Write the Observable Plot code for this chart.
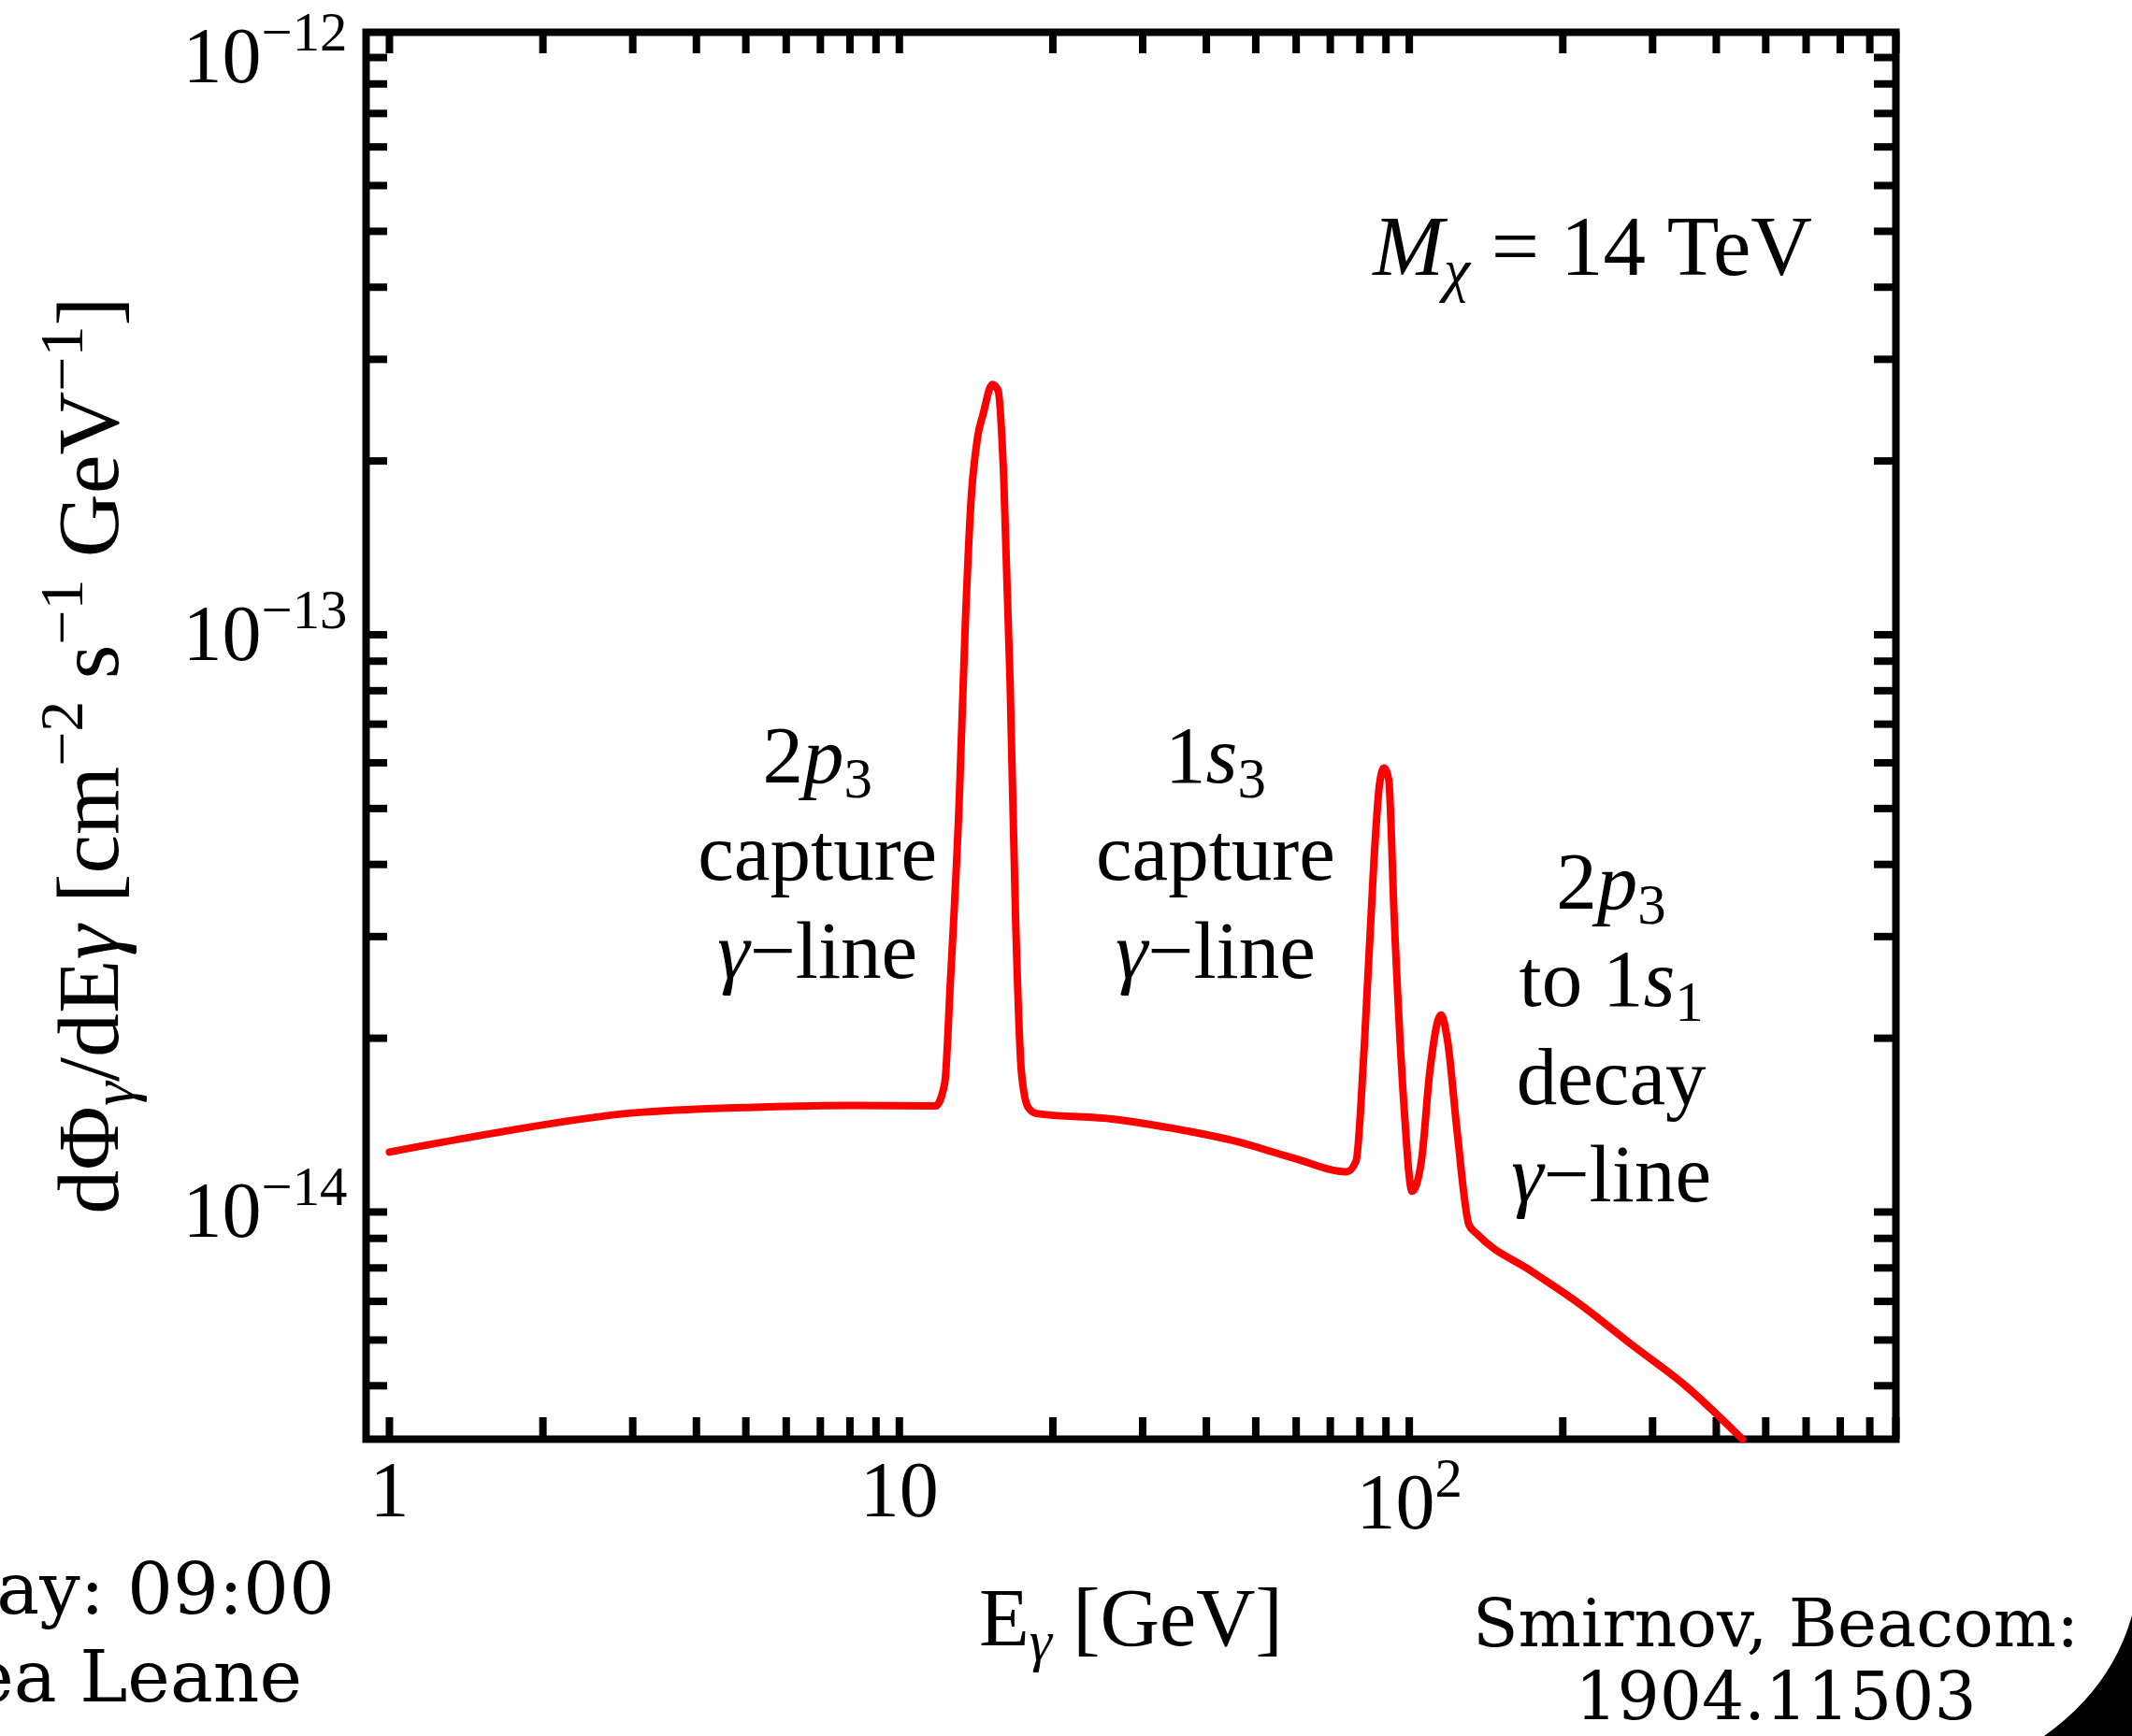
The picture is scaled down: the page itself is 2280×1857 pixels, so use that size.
<!DOCTYPE html>
<html>
<head>
<meta charset="utf-8">
<script src="https://cdn.jsdelivr.net/npm/d3@7"></script>
<script src="https://cdn.jsdelivr.net/npm/@observablehq/plot@0.6"></script>
<style>
  html, body { margin: 0; padding: 0; background: #fff; }
  #chart { position: relative; width: 2280px; height: 1857px; overflow: hidden; background: #fff; }
</style>
</head>
<body>
<div id="chart"></div>
<script>
// ---------------- data ----------------
const energyGeV = [1, 1.48, 2.91, 5.36, 8.0, 11.77, 12.27, 12.59, 13.10, 13.47, 13.81, 14.23, 14.59, 15.22, 15.61,
  16.01, 16.49, 16.91, 17.35, 17.87, 18.56, 26.35, 34.5, 45.2, 59.3, 75.4, 78.6, 81.7, 85.2, 87.4, 89.2, 91.1,
  93.5, 97.5, 101.3, 105.6, 109.7, 115.4, 118.9, 124.1, 131.0, 136.1, 173.9, 213.8, 273, 348.9, 450];
const fluxPerGeV = [1.27e-14, 1.353e-14, 1.481e-14, 1.52e-14, 1.53e-14, 1.526e-14, 1.669e-14, 2.498e-14, 5.12e-14,
  1.046e-13, 1.688e-13, 2.193e-13, 2.407e-13, 2.713e-13, 2.653e-13, 1.902e-13, 8.23e-14, 3.17e-14, 1.751e-14,
  1.52e-14, 1.481e-14, 1.448e-14, 1.395e-14, 1.329e-14, 1.24e-14, 1.174e-14, 1.224e-14, 1.975e-14, 4.03e-14,
  5.50e-14, 5.88e-14, 5.62e-14, 3.17e-14, 1.554e-14, 1.086e-14, 1.224e-14, 1.751e-14, 2.193e-14, 1.975e-14,
  1.379e-14, 9.49e-15, 9.14e-15, 7.89e-15, 6.97e-15, 5.89e-15, 4.99e-15, 4.04e-15];

const xMajorTicks = [1, 10, 100];
const xTickLabels = ["1", "10", "10^{2}"];
const xMinorTicks = [1, 2, 3, 4, 5, 6, 7, 8, 9, 10, 20, 30, 40, 50, 60, 70, 80, 90,
  100, 200, 300, 400, 500, 600, 700, 800, 900];
const yMajorTicks = [1e-14, 1e-13, 1e-12];
const yTickLabels = ["10^{−14}", "10^{−13}", "10^{−12}"];
const yMinorTicks = [5e-15, 6e-15, 7e-15, 8e-15, 9e-15,
  1e-14, 2e-14, 3e-14, 4e-14, 5e-14, 6e-14, 7e-14, 8e-14, 9e-14,
  1e-13, 2e-13, 3e-13, 4e-13, 5e-13, 6e-13, 7e-13, 8e-13, 9e-13, 1e-12];

const annotationText = [
  "2*p*_{3}\ncapture\n*γ*−line",
  "1*s*_{3}\ncapture\n*γ*−line",
  "2*p*_{3}\nto 1*s*_{1}\ndecay\n*γ*−line",
  "*M*_{*χ*} = 14 TeV"
];
const annotationE = [6.91, 41.7, 248.9, 228.8];
const annotationFlux = [4.26e-14, 4.26e-14, 2.12e-14, 4.78e-13];

const xLabel = "E_{*γ*} [GeV]";
const yLabel = "dΦ_{*γ*}/dE*γ* [cm^{−2} s^{−1} GeV^{−1}]";
const footerLeft = ["ay: 09:00", "ea Leane"];
const footerRight = ["Smirnov, Beacom:", "1904.11503"];

// ---------------- layout ----------------
const W = 2280, H = 1857;
const mL = 391, mR = W - 2027, mT = 34, mB = H - 1539;
const innerW = W - mL - mR, innerH = H - mT - mB;
const TL = 23; // tick length from frame centre
const serif = "'Liberation Serif', 'Times New Roman', serif";

const rows = energyGeV.map((E, i) => ({E, flux: fluxPerGeV[i]}));
const annIdx = d3.range(annotationText.length);

const tickStyle = {stroke: "black", strokeWidth: 8, strokeLinecap: "butt"};

const chart = Plot.plot({
  width: W,
  height: H,
  marginLeft: mL, marginRight: mR, marginTop: mT, marginBottom: mB,
  style: {fontFamily: serif, fontSize: "84px", color: "black", background: "white", overflow: "visible"},
  x: {type: "log", domain: [0.9, 900], label: null},
  y: {type: "log", domain: [4.04e-15, 1.106e-12], label: null},
  marks: [
    Plot.frame({stroke: "black", strokeWidth: 8}),
    Plot.ruleX(xMinorTicks, {...tickStyle, insetTop: innerH - TL}),
    Plot.ruleX(xMinorTicks, {...tickStyle, insetBottom: innerH - TL}),
    Plot.ruleY(yMinorTicks, {...tickStyle, insetRight: innerW - TL}),
    Plot.ruleY(yMinorTicks, {...tickStyle, insetLeft: innerW - TL}),
    Plot.axisX(xMajorTicks, {tickSize: 0, tickPadding: 23, label: null, fontSize: 84,
      tickFormat: d => xTickLabels[xMajorTicks.indexOf(d)]}),
    Plot.axisY(yMajorTicks, {tickSize: 0, tickPadding: 20, label: null, fontSize: 84,
      tickFormat: d => yTickLabels[yMajorTicks.findIndex(v => Math.abs(v - d) / v < 1e-6)]}),
    Plot.line(rows, {x: "E", y: "flux", stroke: "#ff0000", strokeWidth: 8, curve: "monotone-x"}),
    Plot.text(annIdx, {x: i => annotationE[i], y: i => annotationFlux[i], text: i => annotationText[i],
      fontSize: i => (i === 3 ? 91 : 87), lineHeight: 1.2, textAnchor: "middle", lineAnchor: "middle", fill: "black"}),
    Plot.text([xLabel], {text: d => d, frameAnchor: "bottom", dy: 192, fontSize: 88,
      textAnchor: "middle", lineAnchor: "middle", fill: "black"}),
    Plot.text([yLabel], {text: d => d, frameAnchor: "left", dx: 95 - mL, dy: 21, rotate: -90, fontSize: 94,
      textAnchor: "middle", lineAnchor: "middle", fill: "black"})
  ]
});

document.getElementById("chart").appendChild(chart);

// ---------------- rich text (italics, sub/superscripts) ----------------
const SVGNS = "http://www.w3.org/2000/svg";
function parseRich(s) {
  const segs = [];
  let italic = false, script = null, buf = "";
  const push = () => { if (buf) segs.push({text: buf, italic, script}); buf = ""; };
  for (let i = 0; i < s.length; i++) {
    const c = s[i];
    if (c === "*") { push(); italic = !italic; }
    else if ((c === "_" || c === "^") && s[i + 1] === "{") { push(); script = c === "_" ? "sub" : "sup"; i++; }
    else if (c === "}" && script) { push(); script = null; }
    else buf += c;
  }
  push();
  return segs;
}
function richify(root) {
  root.querySelectorAll("text").forEach(t => {
    const fs = parseFloat(getComputedStyle(t).fontSize) || 84;
    const lines = t.querySelectorAll("tspan");
    const targets = lines.length ? Array.from(lines) : [t];
    targets.forEach(el => {
      const s = el.textContent;
      if (!/[*_^]/.test(s)) return;
      const segs = parseRich(s);
      el.textContent = "";
      segs.forEach(seg => {
        const ts = document.createElementNS(SVGNS, "tspan");
        ts.textContent = seg.text;
        if (seg.italic) ts.setAttribute("font-style", "italic");
        if (seg.script === "sup") {
          ts.setAttribute("font-size", (fs * 0.7) + "px");
          ts.setAttribute("baseline-shift", (fs * 0.4) + "px");
        } else if (seg.script === "sub") {
          ts.setAttribute("font-size", (fs * 0.7) + "px");
          ts.setAttribute("baseline-shift", (-fs * 0.18) + "px");
        }
        el.appendChild(ts);
      });
      if (segs.some(g => g.script === "sup")) el.setAttribute("data-sup", "1");
    });
  });
}
richify(chart);

// Mathematica aligns the top of the x tick label box: push labels with superscripts down
chart.querySelectorAll('g[aria-label="x-axis tick label"] text').forEach(t => {
  if (t.getAttribute("data-sup")) {
    t.setAttribute("transform", (t.getAttribute("transform") || "") + " translate(0,13)");
  }
});

// ---------------- slide footer and corner decoration ----------------
const svg = d3.select(chart);
svg.append("path")
  .attr("d", "M2186,1857 Q2258,1806 2280,1728 L2280,1857 Z")
  .attr("fill", "black");
const foot = svg.append("g").attr("font-family", "'DejaVu Serif', serif").attr("fill", "black");
foot.append("text").attr("x", 358).attr("y", 1726).attr("text-anchor", "end").attr("font-size", 77).text(footerLeft[0]);
foot.append("text").attr("x", 323).attr("y", 1820).attr("text-anchor", "end").attr("font-size", 77).text(footerLeft[1]);
foot.append("text").attr("x", 1899).attr("y", 1761).attr("text-anchor", "middle").attr("font-size", 71).text(footerRight[0]);
foot.append("text").attr("x", 1899).attr("y", 1839).attr("text-anchor", "middle").attr("font-size", 71).text(footerRight[1]);
</script>
</body>
</html>
